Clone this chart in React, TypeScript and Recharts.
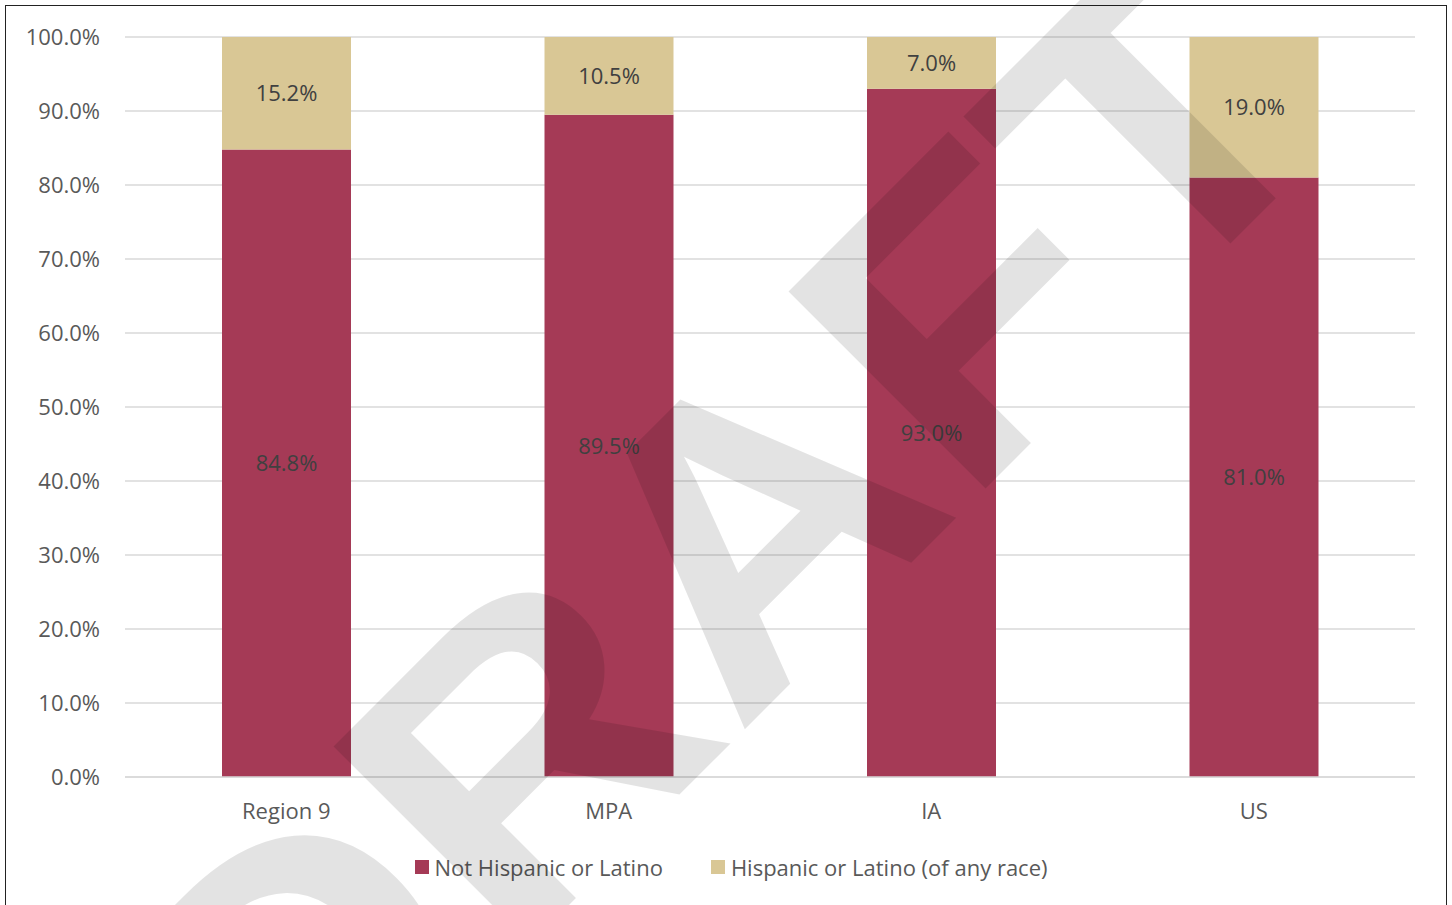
import React from "react";
import {
  BarChart,
  Bar,
  XAxis,
  YAxis,
  CartesianGrid,
  Legend,
  LabelList,
} from "recharts";

// values, in percent
const categories = ["Region 9", "MPA", "IA", "US"];
const notHispanic = [84.8, 89.5, 93.0, 81.0];
const hispanic = [15.2, 10.5, 7.0, 19.0];
const yTicks = [0, 10, 20, 30, 40, 50, 60, 70, 80, 90, 100];

const seriesNames = ["Not Hispanic or Latino", "Hispanic or Latino (of any race)"];
const colors = ["#A53A56", "#D9C795"];

const data = categories.map((name, i) => ({
  name,
  notHispanic: notHispanic[i],
  hispanic: hispanic[i],
}));

const FONT = "'Open Sans', sans-serif";

const pct = (v: any) => `${Number(v).toFixed(1)}%`;

function renderLegend() {
  return (
    <div
      style={{
        display: "flex",
        justifyContent: "center",
        alignItems: "center",
        height: 40,
        paddingLeft: 10,
        fontFamily: FONT,
        fontSize: 22,
        color: "#595959",
      }}
    >
      {seriesNames.map((s, i) => (
        <div
          key={s}
          style={{ display: "flex", alignItems: "center", marginRight: i === 0 ? 48 : 0 }}
        >
          <span
            style={{
              display: "inline-block",
              width: 14,
              height: 14,
              background: colors[i],
              marginRight: 6,
            }}
          />
          <span>{s}</span>
        </div>
      ))}
    </div>
  );
}

export default function App() {
  return (
    <div
      style={{
        position: "absolute",
        left: 0,
        top: 0,
        width: 1452,
        height: 905,
        background: "#fff",
        overflow: "hidden",
      }}
    >
      {/* frame around the chart */}
      <div
        style={{
          position: "absolute",
          left: 5,
          top: 5,
          width: 1440,
          height: 1000,
          border: "1.5px solid #222",
        }}
      />
      <div style={{ position: "absolute", left: 0, top: 0 }}>
        <BarChart
          width={1452}
          height={905}
          data={data}
          margin={{ top: 37, right: 37, left: 0, bottom: 18 }}
        >
          <CartesianGrid vertical={false} stroke="#d9d9d9" strokeWidth={1.5} />
          <XAxis
            dataKey="name"
            height={70}
            axisLine={{ stroke: "#d9d9d9", strokeWidth: 1.5 }}
            tickLine={false}
            tickMargin={20}
            tick={{ fill: "#595959", fontSize: 22, fontFamily: FONT }}
          />
          <YAxis
            width={125}
            domain={[0, 100]}
            ticks={yTicks}
            axisLine={false}
            tickLine={false}
            tickMargin={19}
            tickFormatter={pct}
            tick={{ fill: "#595959", fontSize: 22, fontFamily: FONT }}
          />
          <Legend
            verticalAlign="bottom"
            width={1452}
            height={40}
            wrapperStyle={{ left: 0 }}
            content={renderLegend}
          />
          <Bar
            dataKey="notHispanic"
            name={seriesNames[0]}
            stackId="a"
            fill={colors[0]}
            barSize={129}
            isAnimationActive={false}
          >
            <LabelList
              dataKey="notHispanic"
              position="center"
              formatter={pct}
              fill="#404040"
              fontSize={22}
              fontFamily={FONT}
            />
          </Bar>
          <Bar
            dataKey="hispanic"
            name={seriesNames[1]}
            stackId="a"
            fill={colors[1]}
            barSize={129}
            isAnimationActive={false}
          >
            <LabelList
              dataKey="hispanic"
              position="center"
              formatter={pct}
              fill="#404040"
              fontSize={22}
              fontFamily={FONT}
            />
          </Bar>
        </BarChart>
      </div>
      {/* DRAFT watermark laid over the chart */}
      <svg
        width={1452}
        height={905}
        style={{ position: "absolute", left: 0, top: 0, pointerEvents: "none" }}
      >
        <text
          transform="translate(282,1192) rotate(-45) scale(1.1,1)"
          fontFamily="'Liberation Sans', Arial, sans-serif"
          fontWeight="bold"
          fontSize={405}
          fill="#000"
          fillOpacity={0.11}
        >
          DRAFT
        </text>
      </svg>
    </div>
  );
}
